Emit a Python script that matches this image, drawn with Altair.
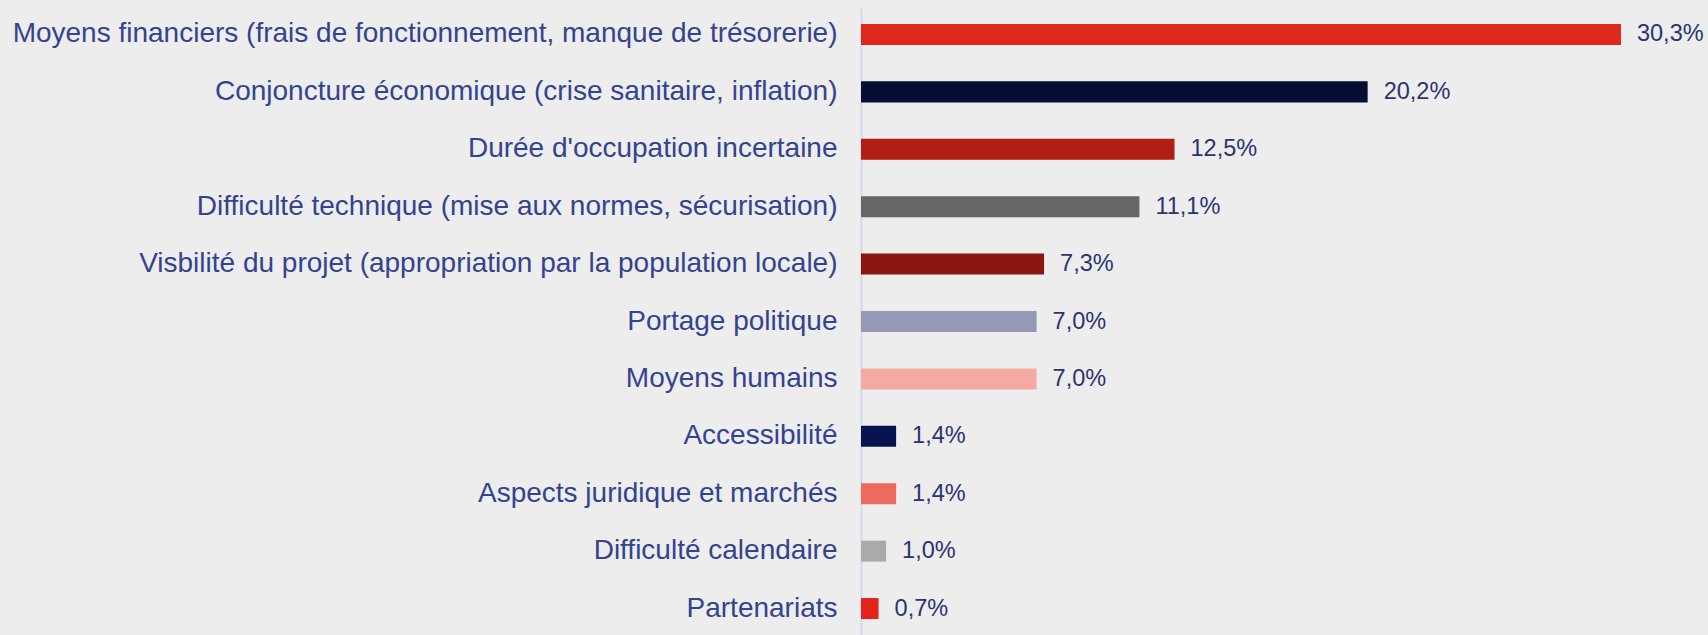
import altair as alt
import pandas as pd

categories = [
    "Moyens financiers (frais de fonctionnement, manque de trésorerie)",
    "Conjoncture économique (crise sanitaire, inflation)",
    "Durée d'occupation incertaine",
    "Difficulté technique (mise aux normes, sécurisation)",
    "Visbilité du projet (appropriation par la population locale)",
    "Portage politique",
    "Moyens humains",
    "Accessibilité",
    "Aspects juridique et marchés",
    "Difficulté calendaire",
    "Partenariats",
]
values = [30.3, 20.2, 12.5, 11.1, 7.3, 7.0, 7.0, 1.4, 1.4, 1.0, 0.7]
labels = ["30,3%", "20,2%", "12,5%", "11,1%", "7,3%", "7,0%", "7,0%", "1,4%", "1,4%", "1,0%", "0,7%"]
colors = ["#DC281E", "#060E33", "#B01E16", "#666666", "#8B1510", "#9699B4",
          "#F4A9A2", "#08124F", "#EE6A5F", "#AAAAAA", "#E3231B"]

df = pd.DataFrame({"cat": categories, "val": values, "lab": labels, "col": colors})

y = alt.Y("cat:N", sort=categories, title=None,
          scale=alt.Scale(paddingInner=0.634, paddingOuter=0.278),
          axis=alt.Axis(labelFont="Liberation Sans", labelFontSize=28, labelColor="#34438F",
                        labelLimit=900, labelPadding=24, ticks=False, domain=True,
                        domainColor="#D3DAEE", domainWidth=2, grid=False))
x = alt.X("val:Q", title=None, scale=alt.Scale(domain=[0, 33.77], nice=False), axis=None)

bars = alt.Chart(df).mark_bar().encode(y=y, x=x, color=alt.Color("col:N", scale=None))
text = alt.Chart(df).mark_text(align="left", baseline="middle", dx=16,
                               font="Liberation Sans", fontSize=23.5, color="#2A3470").encode(
    y=alt.Y("cat:N", sort=categories), x="val:Q", text="lab:N")

chart = (bars + text).properties(
    width=847, height=627,
    autosize=alt.AutoSizeParams(type="none"),
    padding={"left": 861, "top": 8, "right": 0, "bottom": 0},
    background="#EDEDED",
).configure_view(stroke=None)

chart.save("out.html", embed_options={"renderer": "svg", "actions": False,
                                      "defaultStyle": "html,body{background:#EDEDED;margin:0;overflow:hidden}"})
